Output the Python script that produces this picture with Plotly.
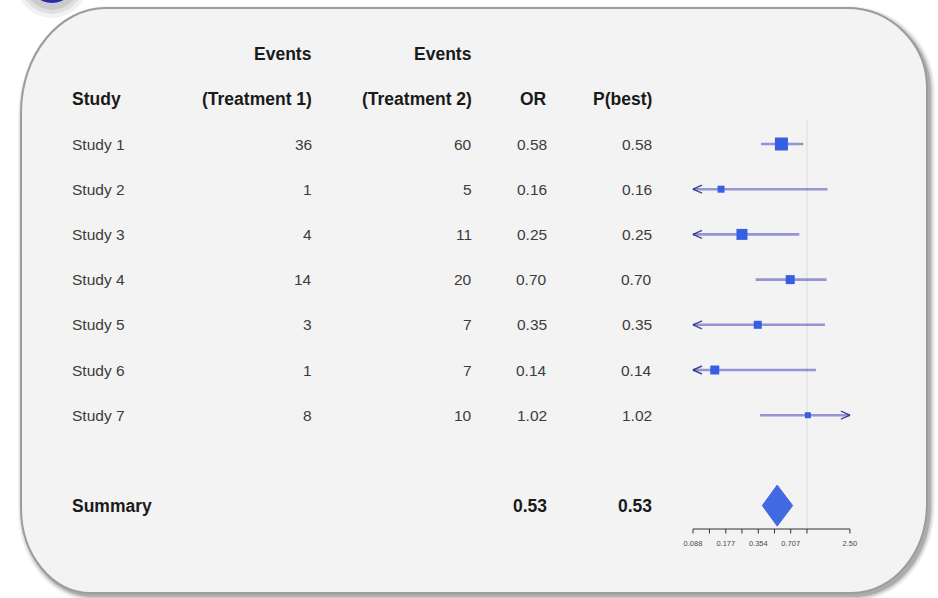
import math
import plotly.graph_objects as go

# ---- data -------------------------------------------------------------
studies = ["Study 1", "Study 2", "Study 3", "Study 4", "Study 5", "Study 6", "Study 7"]
events_t1 = [36, 1, 4, 14, 3, 1, 8]
events_t2 = [60, 5, 11, 20, 7, 7, 10]
odds_ratio = [0.58, 0.16, 0.25, 0.70, 0.35, 0.14, 1.02]
p_best = [0.58, 0.16, 0.25, 0.70, 0.35, 0.14, 1.02]
ci_lower = [0.376, 0.045, 0.060, 0.335, 0.070, 0.040, 0.368]
ci_upper = [0.925, 1.55, 0.85, 1.52, 1.47, 1.21, 3.20]
study_weight = [13, 7, 11, 9, 8, 9, 6]

summary_label = "Summary"
summary_or = 0.53
summary_p_best = 0.53
summary_ci = [0.386, 0.737]

header_top = ["", "Events", "Events", "", ""]
header_bottom = ["Study", "(Treatment 1)", "(Treatment 2)", "OR", "P(best)"]

axis_ticks = [0.088, 0.125, 0.177, 0.25, 0.354, 0.5, 0.707, 1.0, 2.5]
axis_tick_labels = ["0.088", "", "0.177", "", "0.354", "", "0.707", "", "2.50"]

# ---- geometry (pixels) -------------------------------------------------
W, H = 938, 598
ROW1_PX, ROW_PX = 144, 45.2          # pixel centre of first study row, row pitch
AXIS_X0_PX, OCTAVE_PX = 693, 32.5    # pixel of lowest tick, pixels per doubling
COL_X = [70, 314, 474, 549, 654]     # study (left-aligned) then right edges
FONT = "Liberation Sans, Arial, sans-serif"


def px_to_row(py):
    return 1 + (py - ROW1_PX) / ROW_PX


x_lo, x_hi = axis_ticks[0], axis_ticks[-1]
l2 = math.log10(2)
x_range = [math.log10(x_lo) - AXIS_X0_PX / OCTAVE_PX * l2,
           math.log10(x_lo) + (W - AXIS_X0_PX) / OCTAVE_PX * l2]
y_range = [px_to_row(H), px_to_row(0)]

study_rows = list(range(1, len(studies) + 1))
summary_row = len(studies) + 2
axis_row = px_to_row(529)
tick_end_row = px_to_row(533.5)
tick_label_row = px_to_row(544)

fig = go.Figure()

# reference line at OR = 1
fig.add_trace(go.Scatter(x=[1, 1], y=[px_to_row(120), axis_row], mode="lines",
                         line=dict(color="#dcdcdc", width=1), hoverinfo="skip"))

# confidence intervals, clipped to the axis limits
ci_x, ci_y, arr_x, arr_y = [], [], [], []
head_f = 2 ** (9 / OCTAVE_PX)
head_dy = 4 / ROW_PX
for r, lo, hi in zip(study_rows, ci_lower, ci_upper):
    ci_x += [max(lo, x_lo), min(hi, x_hi), None]
    ci_y += [r, r, None]
    if lo < x_lo:
        arr_x += [x_lo * head_f, x_lo, x_lo * head_f, None]
        arr_y += [r - head_dy, r, r + head_dy, None]
    if hi > x_hi:
        arr_x += [x_hi / head_f, x_hi, x_hi / head_f, None]
        arr_y += [r - head_dy, r, r + head_dy, None]

fig.add_trace(go.Scatter(x=ci_x, y=ci_y, mode="lines",
                         line=dict(color="rgba(88,88,196,0.62)", width=2.6),
                         hoverinfo="skip"))
fig.add_trace(go.Scatter(x=arr_x, y=arr_y, mode="lines",
                         line=dict(color="rgba(40,40,130,0.85)", width=1.4),
                         hoverinfo="skip"))

# study estimates, sized by weight
fig.add_trace(go.Scatter(x=odds_ratio, y=study_rows, mode="markers",
                         marker=dict(symbol="square", size=study_weight,
                                     color="#3560e3", opacity=1, line=dict(width=0)),
                         hoverinfo="skip"))

# summary diamond
half_h = 20.5 / ROW_PX
fig.add_trace(go.Scatter(
    x=[summary_ci[0], summary_or, summary_ci[1], summary_or, summary_ci[0]],
    y=[summary_row, summary_row - half_h, summary_row, summary_row + half_h, summary_row],
    mode="lines", fill="toself", fillcolor="#4169e1",
    line=dict(color="#4169e1", width=1), hoverinfo="skip"))

# x axis line and ticks
ax_x = [x_lo, x_hi, None]
ax_y = [axis_row, axis_row, None]
for t in axis_ticks:
    ax_x += [t, t, None]
    ax_y += [axis_row, tick_end_row, None]
fig.add_trace(go.Scatter(x=ax_x, y=ax_y, mode="lines",
                         line=dict(color="#333333", width=1), hoverinfo="skip"))
fig.add_trace(go.Scatter(x=axis_ticks, y=[tick_label_row] * len(axis_ticks),
                         mode="text", text=axis_tick_labels,
                         textfont=dict(family=FONT, size=7.5, color="#4a4a4a"),
                         hoverinfo="skip"))

# ---- table text --------------------------------------------------------
ann = []


def cell(col, row, text, bold=False, size=15.5, color="#3c3c3c"):
    ann.append(dict(
        x=COL_X[col] / W, xref="paper", y=row, yref="y",
        xanchor="left" if col == 0 else "right", yanchor="middle",
        text=f"<b>{text}</b>" if bold else text, showarrow=False,
        font=dict(family=FONT, size=size, color=color)))


for c, (t, b) in enumerate(zip(header_top, header_bottom)):
    if t:
        cell(c, -1, t, bold=True, size=17.5, color="#1a1a1a")
    cell(c, 0, b, bold=True, size=17.5, color="#1a1a1a")

for r, s, e1, e2, o, p in zip(study_rows, studies, events_t1, events_t2, odds_ratio, p_best):
    cell(0, r, s)
    cell(1, r, str(e1))
    cell(2, r, str(e2))
    cell(3, r, f"{o:.2f}")
    cell(4, r, f"{p:.2f}")

cell(0, summary_row, summary_label, bold=True, size=17.5, color="#1a1a1a")
cell(3, summary_row, f"{summary_or:.2f}", bold=True, size=17.5, color="#1a1a1a")
cell(4, summary_row, f"{summary_p_best:.2f}", bold=True, size=17.5, color="#1a1a1a")

# ---- panel: rounded card with soft shadow ------------------------------
K = 0.5523


def X(px):
    return px / W


def Y(py):
    return 1 - py / H


def rounded_path(x0, y0, x1, y1, tl, tr, br, bl):
    p = [f"M {X(x0 + tl[0])},{Y(y0)}",
         f"L {X(x1 - tr[0])},{Y(y0)}",
         f"C {X(x1 - tr[0] + K * tr[0])},{Y(y0)} {X(x1)},{Y(y0 + tr[1] - K * tr[1])} {X(x1)},{Y(y0 + tr[1])}",
         f"L {X(x1)},{Y(y1 - br[1])}",
         f"C {X(x1)},{Y(y1 - br[1] + K * br[1])} {X(x1 - br[0] + K * br[0])},{Y(y1)} {X(x1 - br[0])},{Y(y1)}",
         f"L {X(x0 + bl[0])},{Y(y1)}",
         f"C {X(x0 + bl[0] - K * bl[0])},{Y(y1)} {X(x0)},{Y(y1 - bl[1] + K * bl[1])} {X(x0)},{Y(y1 - bl[1])}",
         f"L {X(x0)},{Y(y0 + tl[1])}",
         f"C {X(x0)},{Y(y0 + tl[1] - K * tl[1])} {X(x0 + tl[0] - K * tl[0])},{Y(y0)} {X(x0 + tl[0])},{Y(y0)}",
         "Z"]
    return " ".join(p)


PANEL = (21, 8, 927, 593)
RADII = dict(tl=(85, 105), tr=(80, 80), br=(75, 90), bl=(70, 85))
shapes = []

# blue badge peeking in at the top-left, with its halo
for rad, op in [(36, 0.05), (32, 0.07), (28, 0.09)]:
    shapes.append(dict(type="circle", xref="paper", yref="paper", layer="below",
                       x0=X(52 - rad), x1=X(52 + rad), y0=Y(-18 + rad), y1=Y(-18 - rad),
                       fillcolor=f"rgba(0,0,0,{op})", line=dict(width=0)))
shapes.append(dict(type="circle", xref="paper", yref="paper", layer="below",
                   x0=X(52 - 23), x1=X(52 + 23), y0=Y(-20 + 23), y1=Y(-20 - 23),
                   fillcolor="#2c2ca8", line=dict(width=0)))

for grow, op in [(5, 0.05), (3.5, 0.07), (2, 0.1), (0.8, 0.14)]:
    x0, y0, x1, y1 = PANEL
    rr = {k: (v[0] + grow, v[1] + grow) for k, v in RADII.items()}
    shapes.append(dict(type="path", xref="paper", yref="paper", layer="below",
                       path=rounded_path(x0 + 2 - grow, y0 + 3 - grow, x1 + 3 + grow, y1 + 3 + grow,
                                         rr["tl"], rr["tr"], rr["br"], rr["bl"]),
                       fillcolor=f"rgba(0,0,0,{op})", line=dict(width=0)))

shapes.append(dict(type="path", xref="paper", yref="paper", layer="below",
                   path=rounded_path(*PANEL, RADII["tl"], RADII["tr"], RADII["br"], RADII["bl"]),
                   fillcolor="#f3f3f3", line=dict(color="#9c9c9c", width=2)))

fig.update_layout(
    width=W, height=H, margin=dict(l=0, r=0, t=0, b=0),
    paper_bgcolor="white", plot_bgcolor="rgba(0,0,0,0)",
    showlegend=False, hovermode=False,
    xaxis=dict(type="log", range=x_range, visible=False, domain=[0, 1], fixedrange=True),
    yaxis=dict(range=y_range, visible=False, domain=[0, 1], fixedrange=True),
    shapes=shapes, annotations=ann,
)

fig.write_html("out.html", config=dict(displayModeBar=False))
